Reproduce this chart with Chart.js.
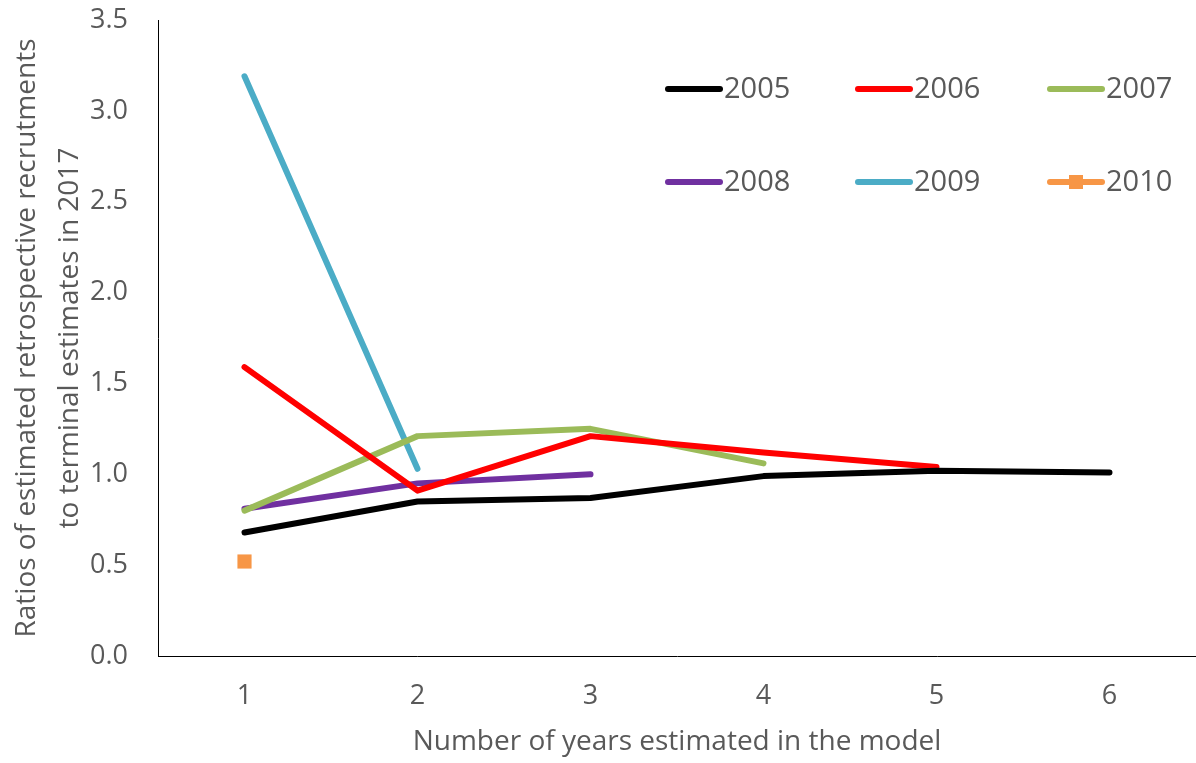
<!DOCTYPE html>
<html lang="en">
<head>
  <meta charset="UTF-8">
  <title>Retrospective recruitment ratios</title>
  <script src="https://cdn.jsdelivr.net/npm/chart.js"></script>
  <style>
    body {
      margin: 0;
      background: #fff;
      overflow: hidden;
    }
    canvas {
      display: block;
    }
  </style>
</head>
<body>
  <canvas id="ratioChart" width="1196" height="763"></canvas>

  <script>
    // data
    const years = ['1', '2', '3', '4', '5', '6'];
    const yTicks = [0, 0.5, 1.0, 1.5, 2.0, 2.5, 3.0, 3.5];

    const s2005 = [0.68, 0.85, 0.87, 0.99, 1.02, 1.01];
    const s2006 = [1.59, 0.91, 1.21, 1.12, 1.04, null];
    const s2007 = [0.80, 1.21, 1.25, 1.06, null, null];
    const s2008 = [0.81, 0.95, 1.00, null, null, null];
    const s2009 = [3.19, 1.03, null, null, null, null];
    const s2010 = [0.52, null, null, null, null, null];

    const grey = '#595959';
    const fontFam = "'Open Sans', 'Liberation Sans', sans-serif";

    function line(label, data, color) {
      return {
        label: label,
        data: data,
        borderColor: color,
        backgroundColor: color,
        borderWidth: 6,
        borderCapStyle: 'round',
        borderJoinStyle: 'round',
        pointRadius: 0,
        tension: 0,
        spanGaps: false
      };
    }

    const datasets = [
      line('2005', s2005, '#000000'),
      line('2006', s2006, '#FF0000'),
      line('2007', s2007, '#9BBB59'),
      line('2008', s2008, '#7030A0'),
      line('2009', s2009, '#4BACC6'),
      Object.assign(line('2010', s2010, '#F79646'), {
        pointStyle: 'rect',
        pointRadius: 10,
        pointBorderWidth: 0
      })
    ];

    // legend drawn by hand: 2 rows x 3 columns in the top right
    const gridLegend = {
      id: 'gridLegend',
      afterDraw(chart) {
        const ctx = chart.ctx;
        const colX = [665, 855, 1047];
        const rowY = [89, 182];
        ctx.save();
        ctx.font = '29px ' + fontFam;
        ctx.textBaseline = 'middle';
        chart.data.datasets.forEach((ds, i) => {
          const x = colX[i % 3];
          const y = rowY[Math.floor(i / 3)];
          ctx.strokeStyle = ds.borderColor;
          ctx.lineWidth = 6;
          ctx.lineCap = 'round';
          ctx.beginPath();
          ctx.moveTo(x + 3, y);
          ctx.lineTo(x + 55, y);
          ctx.stroke();
          if (ds.pointStyle === 'rect') {
            ctx.fillStyle = ds.borderColor;
            ctx.fillRect(x + 22, y - 7, 14, 14);
          }
          ctx.fillStyle = grey;
          ctx.textAlign = 'left';
          ctx.fillText(ds.label, x + 59, y + 1);
        });
        ctx.restore();
      }
    };

    new Chart(document.getElementById('ratioChart'), {
      type: 'line',
      data: { labels: years, datasets: datasets },
      plugins: [gridLegend],
      options: {
        responsive: false,
        animation: false,
        layout: { autoPadding: false, padding: { top: 20, right: 0, bottom: 0, left: 0 } },
        plugins: {
          legend: { display: false },
          tooltip: { enabled: false }
        },
        scales: {
          x: {
            offset: true,
            grid: { display: false, drawTicks: false },
            border: { color: '#000', width: 1 },
            ticks: {
              color: grey,
              padding: 24,
              font: { family: fontFam, size: 27 }
            },
            title: {
              display: true,
              text: 'Number of years estimated in the model',
              color: grey,
              padding: { top: 18 },
              font: { family: fontFam, size: 28 }
            },
            afterFit(scale) {
              scale.height = 107;
              scale.paddingLeft = 0;
              scale.paddingRight = 0;
            }
          },
          y: {
            min: 0,
            max: 3.5,
            afterBuildTicks(scale) {
              scale.ticks = yTicks.map(v => ({ value: v }));
            },
            grid: { display: false, drawTicks: false },
            border: { color: '#000', width: 1 },
            ticks: {
              color: grey,
              padding: 30,
              font: { family: fontFam, size: 27 },
              callback: v => Number(v).toFixed(1)
            },
            title: {
              display: true,
              text: ['Ratios of estimated retrospective recrutments', 'to terminal estimates in 2017'],
              color: grey,
              padding: { top: 5, bottom: 0 },
              font: { family: fontFam, size: 28, lineHeight: 1.55 }
            },
            afterFit(scale) {
              scale.width = 158;
              scale.paddingTop = 0;
              scale.paddingBottom = 0;
            }
          }
        }
      }
    });
  </script>
</body>
</html>
